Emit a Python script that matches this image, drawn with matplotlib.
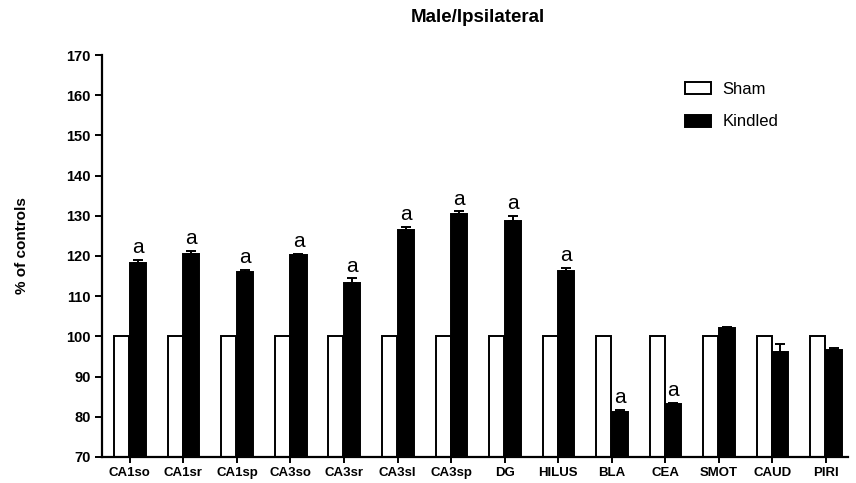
import matplotlib.pyplot as plt
import matplotlib.transforms as mtransforms
import numpy as np

plt.rcParams['font.family'] = ['Liberation Sans', 'DejaVu Sans']

# regions and group means (% of controls)
regions = ['CA1so', 'CA1sr', 'CA1sp', 'CA3so', 'CA3sr', 'CA3sl', 'CA3sp',
           'DG', 'HILUS', 'BLA', 'CEA', 'SMOT', 'CAUD', 'PIRI']
sham = [100] * 14
kindled = [118.3, 120.6, 116.0, 120.2, 113.2, 126.4, 130.5,
           128.8, 116.3, 81.1, 83.1, 102.1, 96.2, 96.6]
kindled_sem = [0.8, 0.7, 0.6, 0.4, 1.2, 0.8, 0.6,
               1.1, 0.7, 0.6, 0.3, 0.3, 1.9, 0.5]
significant = [True] * 9 + [True, True, False, False, False]

x = np.arange(len(regions))

fig = plt.figure(figsize=(8.56, 4.83), dpi=100)
ax = fig.add_axes([0.119, 0.054, 0.872, 0.832])

ax.bar(x - 0.15, sham, width=0.28, color='white', edgecolor='black',
       linewidth=1.4, label='Sham', zorder=2)
ax.bar(x + 0.15, kindled, width=0.30, color='black', edgecolor='black',
       linewidth=1.4, label='Kindled', zorder=2)
ax.errorbar(x + 0.15, kindled, yerr=[np.zeros(len(x)), kindled_sem], fmt='none',
            ecolor='black', elinewidth=1.4, capsize=3.5, capthick=1.4, zorder=3)

# significance letters
for xi, k, e, s in zip(x, kindled, kindled_sem, significant):
    if s:
        ax.text(xi + 0.15, k + e + 1.7, 'a', ha='center', va='baseline', fontsize=15)

ax.set_ylim(70, 170)
ax.set_xlim(-0.523, 13.42)
ax.set_yticks(range(70, 171, 10))
ax.set_xticks(x)
ax.set_xticklabels(regions, fontweight='bold', fontsize=9.5)
shift = mtransforms.ScaledTranslation(4 / 100, 0, fig.dpi_scale_trans)
for lbl in ax.get_xticklabels():
    lbl.set_transform(lbl.get_transform() + shift)
ax.tick_params(axis='x', direction='out', length=4, width=1.4, pad=3)
ax.tick_params(axis='y', direction='out', length=5, width=1.4, labelsize=10.5, pad=3)
for lbl in ax.get_yticklabels():
    lbl.set_fontweight('bold')

ax.spines['top'].set_visible(False)
ax.spines['right'].set_visible(False)
ax.spines['left'].set_linewidth(1.6)
ax.spines['bottom'].set_linewidth(1.6)

ax.set_ylabel('% of controls', fontsize=11, fontweight='bold')
ax.yaxis.set_label_coords(-0.097, 0.527)
fig.text(0.558, 1 - 18 / 483, 'Male/Ipsilateral', ha='center', va='center',
         fontsize=13.5, fontweight='bold')

ax.legend(loc='upper left', bbox_to_anchor=(0.800, 0.831),
          bbox_transform=fig.transFigure, frameon=False, borderpad=0,
          borderaxespad=0, fontsize=12, handlelength=1.56, handleheight=0.72,
          handletextpad=0.7, labelspacing=1.07)

fig.savefig('out.png', dpi=100)
